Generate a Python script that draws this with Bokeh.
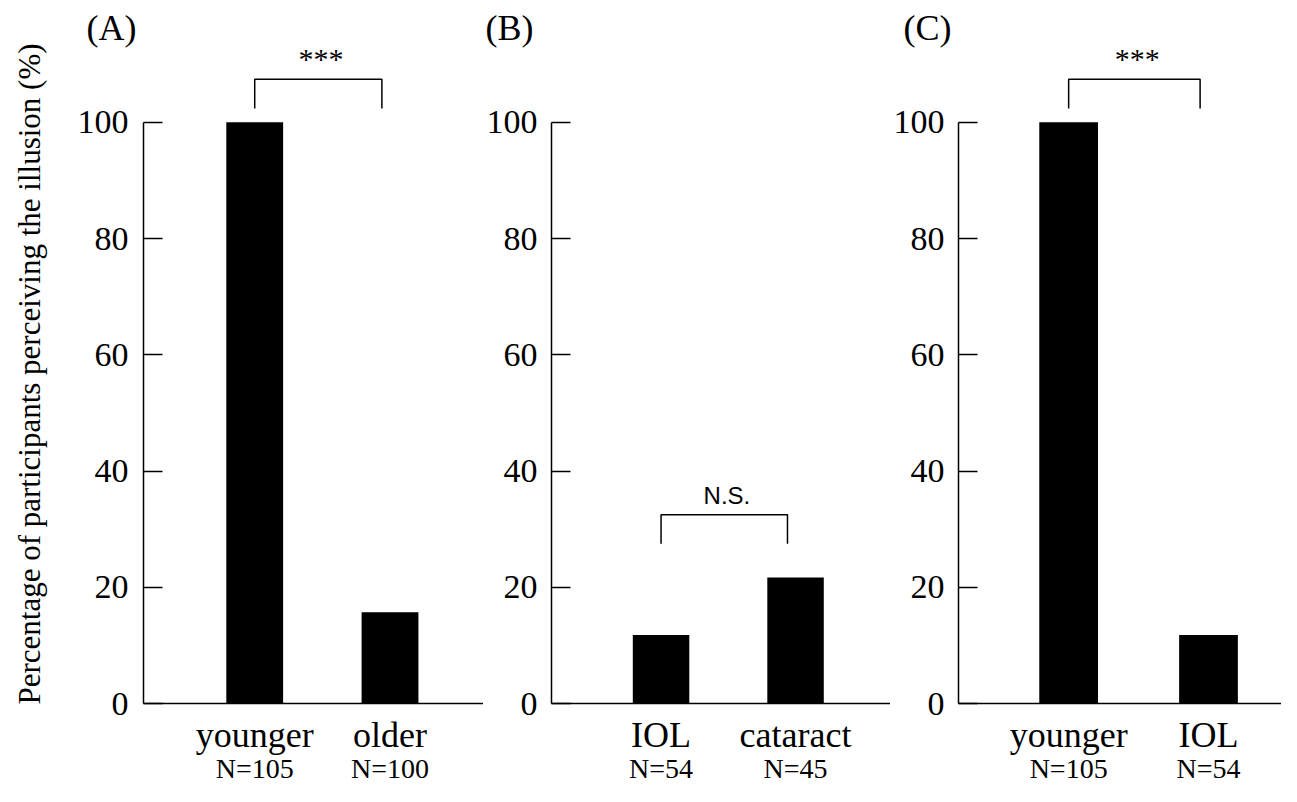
from bokeh.plotting import figure
from bokeh.models import Range1d, FixedTicker, Title, LinearAxis
from bokeh.layouts import row
from bokeh.core.properties import value
from bokeh.embed import file_html
from bokeh.resources import INLINE

# ---- data ----
panel_titles = ["(A)", "(B)", "(C)"]
groups_a = ["younger", "older"]
groups_b = ["IOL", "cataract"]
groups_c = ["younger", "IOL"]
n_a = ["N=105", "N=100"]
n_b = ["N=54", "N=45"]
n_c = ["N=105", "N=54"]
pct_a = [100, 15.7]
pct_b = [11.8, 21.7]
pct_c = [100, 11.8]
sig_a = "***"
sig_b = "N.S."
sig_c = "***"
y_ticks = [0, 20, 40, 60, 80, 100]
y_label = "Percentage of participants perceiving the illusion (%)"

SERIF = "Liberation Serif"
SANS = "Liberation Sans"
PANEL_H = 786
TOP = 44
BOTTOM = 83
Y_END = 113.4


def make_panel(title, groups, ns, pct, sig, sig_level, sig_font, sig_size, sig_dy,
               width, left, x_start, x_end, title_offset, tick_standoff,
               with_ylabel=False):
    p = figure(width=width, height=PANEL_H, output_backend="svg", toolbar_location=None,
               x_range=Range1d(x_start, x_end), y_range=Range1d(0, Y_END),
               min_border_left=left, min_border_right=0, min_border_top=TOP,
               min_border_bottom=BOTTOM, background_fill_color="white",
               border_fill_color="white")
    p.outline_line_color = None
    p.grid.visible = False

    p.add_layout(Title(text=title, text_font=SERIF, text_font_size="36px",
                       text_font_style="normal", text_color="black", align="left",
                       offset=title_offset, standoff=-7), "above")

    xs = [1, 2]
    p.vbar(x=xs, top=pct, bottom=0, width=0.42, fill_color="black", line_color=None)

    # y axis
    ya = p.yaxis[0]
    ya.ticker = FixedTicker(ticks=y_ticks)
    ya.bounds = (0, 100)
    ya.major_tick_in = 19
    ya.major_tick_out = 0
    ya.minor_tick_line_color = None
    ya.axis_line_width = 1.5
    ya.major_tick_line_width = 1.5
    ya.axis_line_color = "black"
    ya.major_tick_line_color = "black"
    ya.major_label_text_font = SERIF
    ya.major_label_text_font_size = "34px"
    ya.major_label_text_color = "black"
    ya.major_label_standoff = tick_standoff
    if with_ylabel:
        ya.axis_label = y_label
        ya.axis_label_text_font = SERIF
        ya.axis_label_text_font_size = "31px"
        ya.axis_label_text_font_style = "normal"
        ya.axis_label_text_color = "black"
        ya.axis_label_standoff = 28

    # x axis (group names)
    xa = p.xaxis[0]
    xa.ticker = FixedTicker(ticks=xs)
    xa.major_label_overrides = {x: g for x, g in zip(xs, groups)}
    xa.major_tick_in = 0
    xa.major_tick_out = 0
    xa.minor_tick_line_color = None
    xa.axis_line_width = 1.5
    xa.axis_line_color = "black"
    xa.major_label_text_font = SERIF
    xa.major_label_text_font_size = "36px"
    xa.major_label_text_color = "black"
    xa.major_label_standoff = 11

    # second x axis (sample sizes)
    na = LinearAxis(ticker=FixedTicker(ticks=xs),
                    major_label_overrides={x: n for x, n in zip(xs, ns)},
                    axis_line_color=None, major_tick_line_color=None,
                    minor_tick_line_color=None, major_tick_in=0, major_tick_out=0,
                    major_label_text_font=SERIF, major_label_text_font_size="28px",
                    major_label_text_color="black", major_label_standoff=-5)
    p.add_layout(na, "below")

    # significance bracket
    top = sig_level
    leg = 5
    p.line(x=[xs[0], xs[0], 1.94, 1.94], y=[top - leg, top, top, top - leg],
           line_color="black", line_width=1.5)
    p.text(x=[1.49], y=[top + sig_dy], text=[sig], text_font=value(sig_font),
           text_font_size=sig_size, text_align="center", text_baseline="alphabetic",
           text_color="black")
    return p


pA = make_panel(panel_titles[0], groups_a, n_a, pct_a, sig_a, 107.4, SERIF, "30px", 3.6,
                width=483, left=143, x_start=0.178, x_end=2.691, title_offset=-57,
                tick_standoff=15, with_ylabel=True)
pB = make_panel(panel_titles[1], groups_b, n_b, pct_b, sig_b, 32.5, SANS, "24px", 3.3,
                width=407, left=66, x_start=0.1855, x_end=2.706, title_offset=-66,
                tick_standoff=14)
pC = make_panel(panel_titles[2], groups_c, n_c, pct_c, sig_c, 107.4, SERIF, "30px", 3.6,
                width=391, left=67, x_start=0.2124, x_end=2.522, title_offset=-55,
                tick_standoff=14)

layout = row(pA, pB, pC)
open("out.html", "w").write(file_html(layout, INLINE))
